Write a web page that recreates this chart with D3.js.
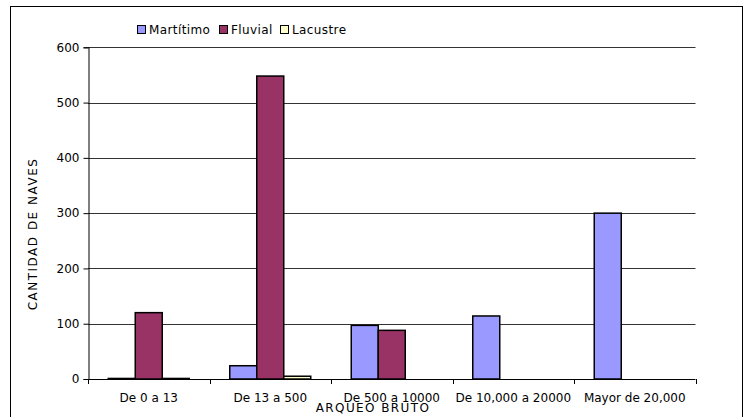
<!DOCTYPE html>
<html><head><meta charset="utf-8">
<script src="https://cdn.jsdelivr.net/npm/d3@7"></script>
<style>body{margin:0;background:#fff}svg{display:block;font-family:"DejaVu Sans",Verdana,sans-serif}</style>
</head><body><svg id="c" width="747" height="417"></svg>
<script>
const categories = ["De 0 a 13","De 13 a 500","De 500 a 10000","De 10,000 a 20000","Mayor de 20,000"];
const seriesNames = ["Martítimo","Fluvial","Lacustre"];
const maritimo = [1, 24, 97, 114, 300];
const fluvial = [120, 548, 88, 0, 0];
const lacustre = [1, 5, 0, 0, 0];
const yTicks = [0,100,200,300,400,500,600];
const colors = ["#9999FF","#993366","#FFFFCC"];
const yTitle = "CANTIDAD DE NAVES";
const xTitle = "ARQUEO BRUTO";

const series = [maritimo, fluvial, lacustre];
const svg = d3.select("#c");
const m = {l:88, r:695.5, t:47.3, b:379};

svg.append("rect").attr("x",10.5).attr("y",6.5).attr("width",732).attr("height",430)
  .attr("fill","#fff").attr("stroke","#000").attr("stroke-width",1);

const x = d3.scaleBand().domain(categories).range([m.l,m.r]);
const y = d3.scaleLinear().domain([0,600]).range([m.b,m.t]);
const inner = x.bandwidth()*3/4.5;
const x1 = d3.scaleBand().domain(seriesNames).range([0,inner]);

// gridlines
svg.append("g").selectAll("line").data(yTicks.filter(d=>d>0)).join("line")
  .attr("x1",m.l).attr("x2",m.r).attr("y1",d=>Math.round(y(d))+0.5).attr("y2",d=>Math.round(y(d))+0.5)
  .attr("stroke","#333").attr("stroke-width",1);

// bars
const g = svg.append("g");
categories.forEach((c,ci)=>{
  seriesNames.forEach((s,si)=>{
    const v = series[si][ci];
    if(v<=0) return;
    const x0 = x(c) + (x.bandwidth()-inner)/2 + x1(s);
    g.append("rect").attr("x",x0).attr("width",x1.bandwidth())
      .attr("y",y(v)).attr("height",y(0)-y(v))
      .attr("fill",colors[si]).attr("stroke","#000").attr("stroke-width",1.5);
  });
});

// y axis
const ya = svg.append("g").attr("transform",`translate(${m.l+0.5},0)`)
  .call(d3.axisLeft(y).tickValues(yTicks).tickSize(5).tickPadding(4).tickFormat(d3.format("d")));
ya.select(".domain").attr("stroke","#000");
ya.selectAll("text").attr("font-size",12).attr("font-family","DejaVu Sans").attr("fill","#000");

// x axis
const xa = svg.append("g").attr("transform",`translate(0,${m.b+0.5})`)
  .call(d3.axisBottom(x).tickSize(0).tickPadding(14));
xa.select(".domain").attr("stroke","#000").attr("d",`M${m.l},0H${m.r}`);
xa.selectAll("text").attr("font-size",12).attr("font-family","DejaVu Sans").attr("fill","#000");
const bounds = categories.map(c=>x(c)).concat([m.r]);
svg.append("g").selectAll("line").data(bounds).join("line")
  .attr("x1",d=>Math.round(d)+0.5).attr("x2",d=>Math.round(d)+0.5)
  .attr("y1",m.b).attr("y2",m.b+5).attr("stroke","#000");

// titles
svg.append("text").attr("transform",`translate(37,234) rotate(-90)`).attr("text-anchor","middle")
  .attr("font-size",12).attr("letter-spacing",1.5).text(yTitle);
svg.append("text").attr("x",373).attr("y",412).attr("text-anchor","middle")
  .attr("font-size",12).attr("letter-spacing",1.4).text(xTitle);

// legend
const lx = [137,219,280];
seriesNames.forEach((s,i)=>{
  svg.append("rect").attr("x",lx[i]+0.5).attr("y",25.5).attr("width",8).attr("height",8)
    .attr("fill",colors[i]).attr("stroke","#000").attr("stroke-width",1);
  svg.append("text").attr("x",lx[i]+12).attr("y",34).attr("font-size",12).attr("letter-spacing",0.4).text(s);
});
</script></body></html>
